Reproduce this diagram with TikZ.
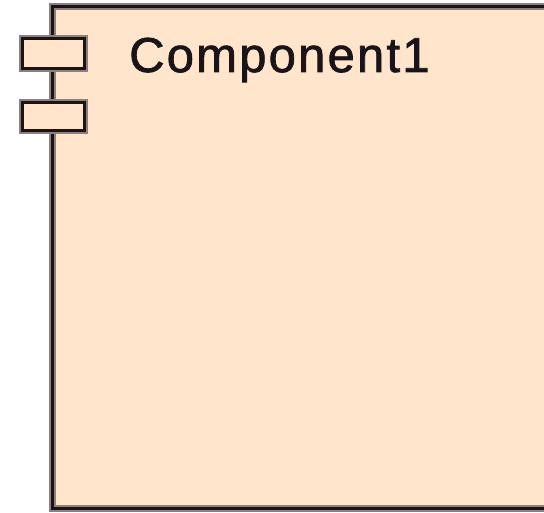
\documentclass[tikz,border=0pt]{standalone}
\usepackage{fontspec}
\setmainfont{Liberation Sans}
\definecolor{compfill}{RGB}{255,229,204}
\definecolor{edgedark}{RGB}{26,20,24}
\definecolor{edgehalo}{RGB}{138,128,128}
\begin{document}
\begin{tikzpicture}[x=1pt,y=-1pt,
  halo/.style={draw=edgehalo,line width=7pt},
  edge/.style={draw=edgedark,line width=3pt},
  portbox/.style={fill=compfill}]
\useasboundingbox (0,0) rectangle (544,513);
\clip (0,0) rectangle (544,513);
% component body
\path[portbox] (52.5,7) rectangle (580,508);
\draw[halo] (52.5,7) rectangle (580,508);
\draw[edge] (52.5,7) rectangle (580,508);
% ports
\foreach \ya/\yb in {39/69,103/131}{
  \path[portbox] (22,\ya) rectangle (84,\yb);
  \draw[halo] (22,\ya) rectangle (84,\yb);
  \path[portbox] (22,\ya) rectangle (84,\yb);
  \draw[edge] (22,\ya) rectangle (84,\yb);
}
\node[anchor=base west,inner sep=0pt,font=\fontsize{49}{55}\selectfont\addfontfeature{LetterSpace=4.5,FakeBold=1.5},text=edgedark] (title) at (129,72) {Component1};
\end{tikzpicture}
\end{document}
